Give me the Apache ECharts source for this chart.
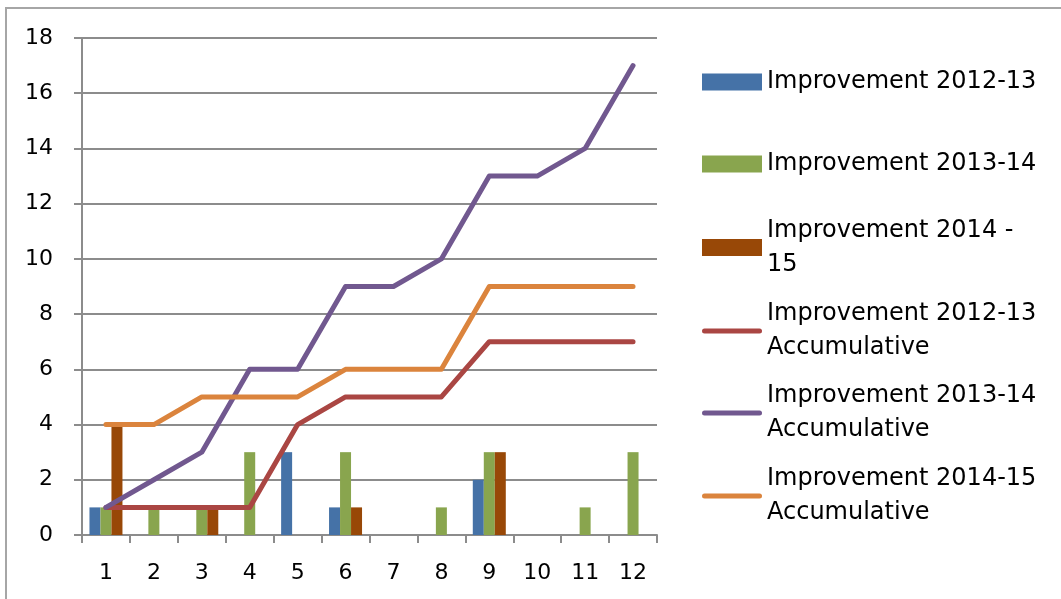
<!DOCTYPE html>
<html>
<head>
<meta charset="utf-8">
<script src="https://cdn.jsdelivr.net/npm/echarts@6/dist/echarts.min.js"></script>
<style>
  html, body { margin: 0; padding: 0; background: #fff; overflow: hidden; }
  #frame { position: absolute; left: 5px; top: 7px; width: 1100px; height: 700px; border: 2px solid #a6a6a6; }
  #chart { position: absolute; left: 0; top: 0; width: 1061px; height: 599px; }
</style>
</head>
<body>
<div id="frame"></div>
<div id="chart"></div>
<script>
// categories (x axis)
const categories = ["1", "2", "3", "4", "5", "6", "7", "8", "9", "10", "11", "12"];

// bar values
const imp1213 = [1, 0, 0, 0, 3, 1, 0, 0, 2, 0, 0, 0];
const imp1314 = [1, 1, 1, 3, 0, 3, 0, 1, 3, 0, 1, 3];
const imp1415 = [4, 0, 1, 0, 0, 1, 0, 0, 3, 0, 0, 0];

// accumulative lines
const acc1213 = [1, 1, 1, 1, 4, 5, 5, 5, 7, 7, 7, 7];
const acc1314 = [1, 2, 3, 6, 6, 9, 9, 10, 13, 13, 14, 17];
const acc1415 = [4, 4, 5, 5, 5, 6, 6, 6, 9, 9, 9, 9];

const seriesNames = [
  "Improvement 2012-13",
  "Improvement 2013-14",
  "Improvement 2014 - 15",
  "Improvement 2012-13 Accumulative",
  "Improvement 2013-14 Accumulative",
  "Improvement 2014-15 Accumulative"
];
const legendLabels = [
  "Improvement 2012-13",
  "Improvement 2013-14",
  "Improvement 2014 -\n15",
  "Improvement 2012-13\nAccumulative",
  "Improvement 2013-14\nAccumulative",
  "Improvement 2014-15\nAccumulative"
];

const FONT = "DejaVu Sans";
const grey = "#8c8c8c";
// thin rounded bar used as the legend mark of the line series
const LINE_ICON = "path://M2.5,0 L57.5,0 A2.5,2.5 0 0 1 57.5,5 L2.5,5 A2.5,2.5 0 0 1 2.5,0 Z";

// one legend per item so each icon sits next to its first text line
const iconCenters = [82, 164, 247.5, 331, 413, 496];
const legends = seriesNames.map((name, i) => {
  const twoLine = legendLabels[i].indexOf("\n") >= 0;
  return {
    orient: "vertical",
    left: 702,
    top: twoLine ? iconCenters[i] - 51 : iconCenters[i] - 17,
    padding: 0,
    itemWidth: 60,
    itemHeight: 17,
    selectedMode: false,
    data: [{ name: name, icon: i < 3 ? "rect" : LINE_ICON }],
    formatter: () => legendLabels[i],
    textStyle: {
      fontFamily: FONT,
      fontSize: 24,
      color: "#000",
      lineHeight: 34,
      padding: twoLine ? [34, 0, 0, 0] : 0
    }
  };
});

const barSeries = (name, data, color) => ({
  name: name,
  type: "bar",
  data: data,
  barWidth: 11,
  barGap: "0%",
  itemStyle: { color: color },
  emphasis: { disabled: true }
});
const lineSeries = (name, data, color) => ({
  name: name,
  type: "line",
  data: data,
  symbol: "none",
  lineStyle: { color: color, width: 5, cap: "round", join: "round" },
  itemStyle: { color: color },
  emphasis: { disabled: true }
});

const chart = echarts.init(document.getElementById("chart"));
chart.setOption({
  animation: false,
  backgroundColor: "transparent",
  grid: { left: 82, right: 404, top: 38, bottom: 64 },
  legend: legends,
  xAxis: {
    type: "category",
    data: categories,
    boundaryGap: true,
    axisLine: { lineStyle: { color: grey, width: 2 } },
    axisTick: { show: true, length: 8, lineStyle: { color: grey, width: 2 } },
    axisLabel: { color: "#000", fontFamily: FONT, fontSize: 22, margin: 27, interval: 0 }
  },
  yAxis: {
    type: "value",
    min: 0,
    max: 18,
    interval: 2,
    axisLine: { show: true, lineStyle: { color: grey, width: 2 } },
    axisTick: { show: true, length: 8, lineStyle: { color: grey, width: 2 } },
    splitLine: { lineStyle: { color: grey, width: 2 } },
    axisLabel: { color: "#000", fontFamily: FONT, fontSize: 22, margin: 29 }
  },
  series: [
    barSeries(seriesNames[0], imp1213, "#4572A7"),
    barSeries(seriesNames[1], imp1314, "#89A54E"),
    barSeries(seriesNames[2], imp1415, "#984807"),
    lineSeries(seriesNames[3], acc1213, "#AA4643"),
    lineSeries(seriesNames[4], acc1314, "#71588F"),
    lineSeries(seriesNames[5], acc1415, "#DB843D")
  ]
});
</script>
</body>
</html>
